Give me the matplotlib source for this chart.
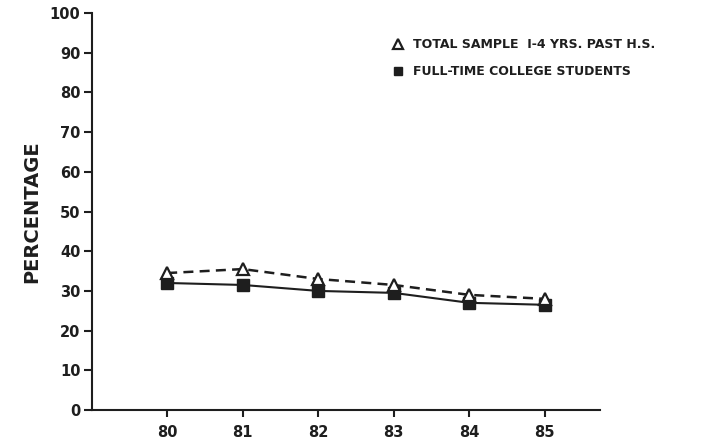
import matplotlib.pyplot as plt
from matplotlib.lines import Line2D

years = [80, 81, 82, 83, 84, 85]
total_sample = [34.5, 35.5, 33.0, 31.5, 29.0, 28.0]
full_time = [32.0, 31.5, 30.0, 29.5, 27.0, 26.5]
labels = ['TOTAL SAMPLE  I-4 YRS. PAST H.S.', 'FULL-TIME COLLEGE STUDENTS']

ink = '#1e1e1e'
plt.rcParams['font.family'] = ['DejaVu Sans']
plt.rcParams['font.weight'] = 'bold'

fig = plt.figure(figsize=(7.05, 4.44), dpi=100)
ax = fig.add_axes([0.130, 0.0766, 0.721, 0.894])

ax.plot(years, full_time, color=ink, lw=1.5, ls='-', marker='s', ms=8,
        mfc=ink, mec=ink, zorder=3)
ax.plot(years, total_sample, color=ink, lw=1.8, ls=(0, (4, 2.5)), marker='^', ms=8,
        mfc='white', mec=ink, mew=1.6, zorder=4)

ax.set_xlim(79.0, 85.73)
ax.set_ylim(0, 100)
ax.set_xticks(years)
ax.set_yticks(range(0, 101, 10))
ax.spines['top'].set_visible(False)
ax.spines['right'].set_visible(False)
for s in ['left', 'bottom']:
    ax.spines[s].set_color(ink)
    ax.spines[s].set_linewidth(1.5)
ax.tick_params(axis='y', direction='out', length=6, width=1.5, colors=ink,
               labelsize=10.5, pad=2)
ax.tick_params(axis='x', direction='out', length=5, width=1.5, colors=ink,
               labelsize=10.5, pad=6)

ax.set_ylabel('PERCENTAGE', fontsize=14, fontweight='bold', color=ink, labelpad=6)

handles = [
    Line2D([], [], ls='none', marker='^', ms=7, mfc='white', mec=ink, mew=1.6),
    Line2D([], [], ls='none', marker='s', ms=6, mfc=ink, mec=ink),
]
ax.legend(handles, labels, loc='upper left', bbox_to_anchor=(0.57, 0.965),
          frameon=False, handlelength=0.8, handletextpad=0.8, labelspacing=1.1,
          prop={'size': 9, 'weight': 'bold'}, labelcolor=ink)

fig.savefig('out.png', dpi=100)
